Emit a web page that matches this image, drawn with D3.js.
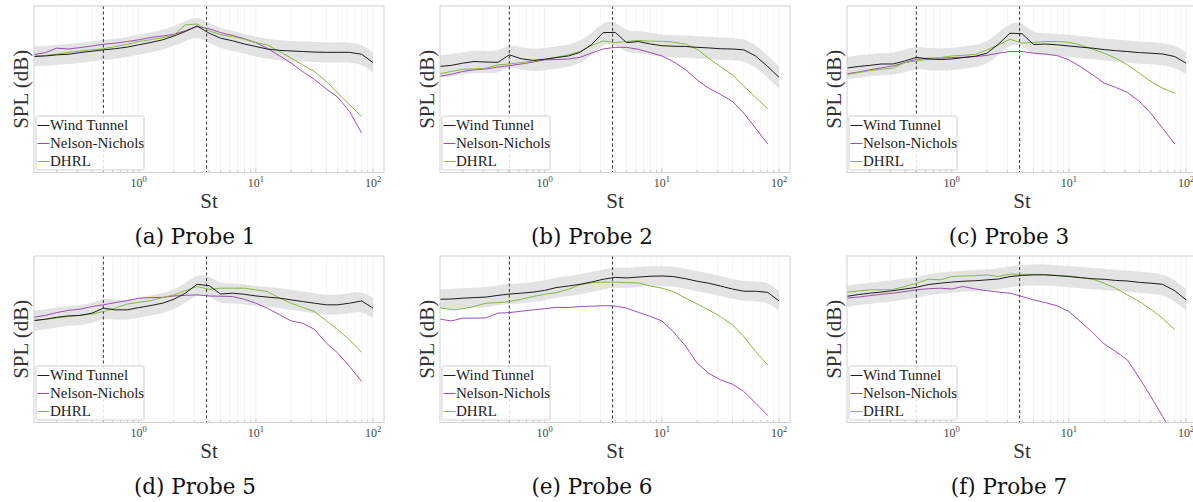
<!DOCTYPE html>
<html>
<head>
<meta charset="utf-8">
<script src="https://cdn.jsdelivr.net/npm/d3@7"></script>
<style>
  html, body { margin: 0; padding: 0; background: #fff; }
  svg { display: block; }
</style>
</head>
<body>
<svg id="fig" width="1193" height="502"></svg>
<script>
// Strouhal numbers (1/3-octave bands)
const st = [0.125, 0.16, 0.2, 0.25, 0.315, 0.4, 0.5, 0.63, 0.8, 1, 1.25, 1.6, 2, 2.5, 3.15,
            4, 5, 6.3, 8, 10, 12.5, 16, 20, 25, 31.5, 40, 50, 63, 80, 100];

const captions = ["(a) Probe 1", "(b) Probe 2", "(c) Probe 3", "(d) Probe 5", "(e) Probe 6", "(f) Probe 7"];

// Wind tunnel SPL (dB), one row per probe, bands 0.125..100
const windTunnel = [
  [81.8,82.0,82.4,82.6,83.2,83.7,84.2,84.6,85.2,86.0,86.8,87.8,89.2,90.8,92.8,90.2,88.4,87.5,86.3,85.4,84.5,84.0,83.8,83.6,83.4,83.3,83.3,83.3,82.6,79.6],
  [78.2,78.6,79.4,80.0,79.8,79.7,82.4,81.0,80.4,80.8,81.4,82.0,83.3,86.0,90.4,90.5,86.8,87.2,86.3,85.7,85.5,85.4,85.1,84.9,84.6,84.5,84.2,82.0,78.2,74.3],
  [77.6,78.2,78.6,79.1,79.1,80.2,81.5,80.9,80.7,80.9,81.4,81.9,83.0,86.2,90.2,90.0,86.1,86.3,86.0,85.6,85.2,84.8,84.3,83.9,83.6,83.2,83.0,82.7,81.8,79.4],
  [76.7,77.2,77.9,78.4,78.6,79.4,81.2,80.6,80.6,81.4,82.1,83.0,84.4,86.6,89.8,89.3,86.3,86.6,86.2,85.6,85.2,84.8,84.2,83.6,83.0,82.4,82.4,83.0,83.8,81.2],
  [84.4,84.5,84.8,85.0,85.2,85.8,86.3,86.6,87.0,87.6,88.6,89.2,89.8,90.6,91.6,92.3,92.1,92.4,92.7,92.8,92.6,91.8,90.9,90.2,89.2,88.1,87.3,87.3,86.9,83.8],
  [85.4,86.1,86.6,87.0,87.5,88.1,88.7,89.7,90.2,90.6,90.9,91.1,91.4,91.7,92.6,93.0,93.2,93.2,92.9,92.6,92.2,91.8,91.6,91.2,91.0,90.5,90.2,89.8,87.5,84.2]
];

// Half width of the wind tunnel uncertainty band (dB), per probe
const bandHalfWidth = [3.6, 4.0, 4.0, 3.6, 3.6, 3.8];

// Nelson-Nichols model SPL (dB), bands 0.125..80
const nelsonNichols = [
  [82.4,83.2,84.8,84.5,85.0,85.6,86.2,86.6,87.2,87.8,88.6,89.2,89.8,91.1,92.6,91.8,90.4,89.4,88.2,86.8,84.8,82.0,79.4,76.4,73.6,70.1,67.1,62.0,54.2],
  [74.6,75.4,76.4,77.0,77.3,78.0,78.5,79.1,79.8,80.6,80.7,80.9,81.5,83.0,84.5,85.1,85.1,84.4,83.2,82.0,80.0,77.0,73.4,70.4,68.2,65.6,61.4,56.0,50.3],
  [75.5,76.2,77.0,77.7,78.4,79.6,80.8,81.2,81.2,81.4,81.5,81.8,82.2,83.0,83.6,83.6,83.0,82.7,82.1,80.6,78.2,75.2,72.2,70.7,68.9,65.6,61.4,56.0,50.3],
  [77.9,78.6,79.6,80.4,80.8,81.8,82.4,83.2,83.9,84.8,85.0,85.1,85.6,85.8,86.0,85.6,85.5,85.4,84.4,83.0,81.2,78.8,76.6,75.8,73.6,68.6,65.0,60.2,54.8],
  [77.3,76.6,77.6,77.6,77.7,79.4,79.6,80.1,80.6,81.0,81.5,81.4,81.8,81.9,82.1,82.0,81.2,79.7,78.2,76.6,72.8,67.4,61.4,57.8,55.4,53.8,51.2,47.0,42.5],
  [84.8,85.2,85.7,86.2,86.6,87.2,87.8,88.2,88.4,88.1,89.0,88.1,87.5,87.0,86.6,85.4,84.2,83.2,82.0,80.0,76.4,72.4,68.3,65.6,62.6,56.0,49.4,42.2,34.6]
];

// DHRL model SPL (dB), bands 0.125..80
const dhrl = [
  [81.8,82.2,82.6,83.3,83.8,84.2,84.6,85.4,86.2,87.2,87.8,88.6,89.6,93.2,93.5,91.1,89.6,89.0,88.0,86.8,86.0,83.6,81.2,78.8,76.4,72.8,68.6,64.4,60.2],
  [75.5,76.4,77.2,77.3,77.6,78.8,79.1,79.6,80.2,80.8,81.5,82.4,83.6,85.7,87.4,86.8,87.2,87.6,87.3,87.3,87.0,86.2,84.4,81.2,78.2,75.2,71.2,67.1,63.0],
  [75.2,76.0,76.7,77.2,77.6,79.6,80.2,80.8,81.4,82.0,82.2,82.6,84.2,86.0,88.0,86.6,86.9,87.2,87.2,86.9,86.0,84.4,83.0,81.2,78.8,75.8,72.8,70.4,68.6],
  [76.7,77.2,77.7,78.2,78.6,79.1,80.0,81.2,82.7,83.3,83.9,85.0,86.0,87.5,89.0,88.0,88.4,88.4,88.4,87.8,87.2,84.8,83.0,81.5,80.0,76.7,73.4,69.8,65.3],
  [81.5,80.6,81.0,81.8,83.0,83.2,83.6,84.4,85.4,86.2,86.8,88.0,89.6,90.4,90.6,90.6,90.4,90.3,89.2,88.4,87.2,84.8,82.7,80.6,78.2,75.2,71.0,65.6,60.8],
  [86.9,87.4,87.8,87.8,87.9,89.0,90.2,91.6,91.4,92.6,92.8,92.9,93.2,92.6,93.5,93.4,93.4,93.3,93.0,92.8,92.3,91.6,90.2,88.4,86.0,83.6,80.8,77.6,73.4]
];

// Reference Strouhal numbers marked with dashed lines
const markerSt = [0.5, 3.8];
// Major tick exponents on the St axis
const majorExponents = [0, 1, 2];
const legendNames = ["Wind Tunnel", "Nelson-Nichols", "DHRL"];

const colors = { wt: "#1c1c1c", nn: "#9b4fb4", dh: "#86b93c", band: "#e3e3e3" };
const serif = "'Liberation Serif', 'Times New Roman', serif";

const svg = d3.select("#fig");
const colLeft = [34, 440, 847];
const rowTop = [6, 256];
const captionX = [195, 592, 1009];
const pw = 350, ph = 166.5;

const x = d3.scaleLog().domain([0.128, 124]).range([0, pw]);
const y = d3.scaleLinear().domain([40, 100]).range([ph, 0]);

// all grid positions on the log axis (1..9 x 10^k)
const gridVals = [];
for (let k = -1; k <= 2; k++) {
  for (let m = 1; m <= 9; m++) {
    const v = m * Math.pow(10, k);
    if (v > x.domain()[0] && v < x.domain()[1]) gridVals.push(v);
  }
}
const isMajor = d => majorExponents.some(e => Math.abs(Math.pow(10, e) - d) < 1e-9);

captions.forEach((cap, i) => {
  const col = i % 3, row = Math.floor(i / 3);
  const g = svg.append("g").attr("transform", `translate(${colLeft[col]},${rowTop[row]})`);
  const clipId = "clip" + i;
  g.append("clipPath").attr("id", clipId)
    .append("rect").attr("width", pw).attr("height", ph);

  // grid
  g.append("g").selectAll("line").data(gridVals).join("line")
    .attr("x1", d => x(d)).attr("x2", d => x(d))
    .attr("y1", 0).attr("y2", ph)
    .attr("stroke", d => isMajor(d) ? "#f0f0f0" : "#f6f6f6").attr("stroke-width", 1);

  const plot = g.append("g").attr("clip-path", `url(#${clipId})`);

  const wt = st.map((s, j) => ({ s, v: windTunnel[i][j] }));
  const hw = bandHalfWidth[i];
  plot.append("path")
    .datum(wt)
    .attr("fill", colors.band)
    .attr("d", d3.area().curve(d3.curveBasis)
      .x(d => x(d.s)).y0(d => y(d.v - hw)).y1(d => y(d.v + hw)));

  // dashed reference lines
  plot.selectAll("line.mark").data(markerSt).join("line")
    .attr("class", "mark")
    .attr("x1", d => x(d)).attr("x2", d => x(d))
    .attr("y1", 0).attr("y2", ph)
    .attr("stroke", "#333").attr("stroke-width", 1).attr("stroke-dasharray", "3,2.5");

  const line = d3.line().x(d => x(d.s)).y(d => y(d.v));
  const series = [
    { data: wt, color: colors.wt },
    { data: nelsonNichols[i].map((v, j) => ({ s: st[j], v })), color: colors.nn },
    { data: dhrl[i].map((v, j) => ({ s: st[j], v })), color: colors.dh }
  ];
  // draw models first, then wind tunnel on top where they overlap
  [series[1], series[2], series[0]].forEach(sr => {
    plot.append("path").datum(sr.data)
      .attr("fill", "none").attr("stroke", sr.color).attr("stroke-width", 1)
      .attr("stroke-linejoin", "round")
      .attr("d", line);
  });

  // minor/major tick marks, inside bottom
  g.append("g").selectAll("line").data(gridVals).join("line")
    .attr("x1", d => x(d)).attr("x2", d => x(d))
    .attr("y1", ph).attr("y2", d => ph - (isMajor(d) ? 4 : 2.5))
    .attr("stroke", "#c8c8c8").attr("stroke-width", 1);

  // frame
  g.append("rect").attr("width", pw).attr("height", ph)
    .attr("fill", "none").attr("stroke", "#d2d2d2").attr("stroke-width", 1);

  // tick labels 10^k
  majorExponents.forEach(e => {
    const t = g.append("text")
      .attr("x", x(Math.pow(10, e))).attr("y", ph + 14)
      .attr("text-anchor", "middle")
      .attr("font-family", serif).attr("font-size", 12).attr("fill", "#444");
    t.append("tspan").text("10");
    t.append("tspan").attr("dy", -5).attr("font-size", 8.5).text(String(e));
  });

  // axis labels
  g.append("text")
    .attr("x", pw / 2).attr("y", ph + 35)
    .attr("text-anchor", "middle")
    .attr("font-family", serif).attr("font-size", 21).attr("fill", "#333")
    .text("St");
  g.append("text")
    .attr("transform", `translate(-6,${ph / 2}) rotate(-90)`)
    .attr("text-anchor", "middle")
    .attr("font-family", serif).attr("font-size", 21).attr("fill", "#333")
    .text("SPL (dB)");

  // legend
  const lg = g.append("g").attr("transform", `translate(2,${ph - 56.5})`);
  lg.append("rect").attr("width", 108).attr("height", 54).attr("rx", 1.5)
    .attr("fill", "#fff").attr("fill-opacity", 0.85)
    .attr("stroke", "#d0d0d0").attr("stroke-width", 1);
  const legendColors = [colors.wt, colors.nn, colors.dh];
  legendNames.forEach((name, k) => {
    const yy = 9.5 + k * 18;
    lg.append("line").attr("x1", 1.5).attr("x2", 13.5).attr("y1", yy).attr("y2", yy)
      .attr("stroke", legendColors[k]).attr("stroke-width", 1);
    lg.append("text").attr("x", 14).attr("y", yy + 4.5)
      .attr("font-family", serif).attr("font-size", 15).attr("fill", "#222")
      .text(name);
  });

  // caption
  svg.append("text")
    .attr("x", captionX[col]).attr("y", rowTop[row] + 237.5)
    .attr("text-anchor", "middle")
    .attr("font-family", "'DejaVu Serif', serif").attr("font-size", 21.5).attr("fill", "#111")
    .text(cap);
});
</script>
</body>
</html>
